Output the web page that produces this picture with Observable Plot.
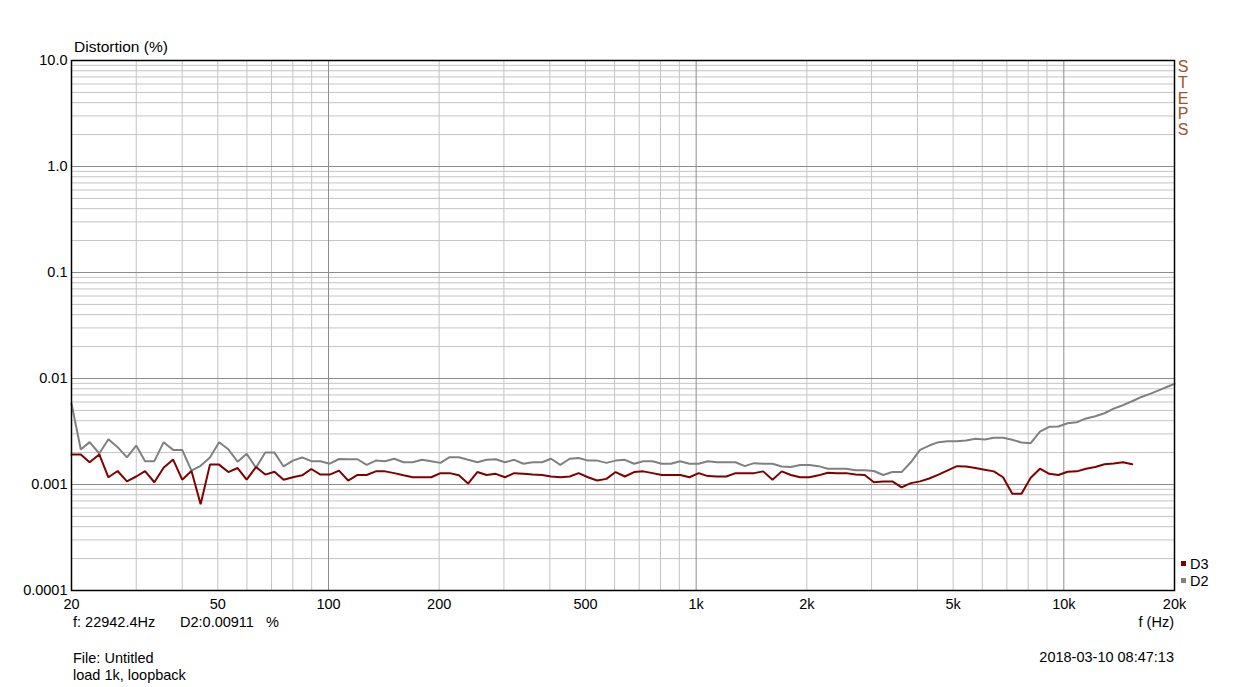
<!DOCTYPE html>
<html>
<head>
<meta charset="utf-8">
<script src="https://cdn.jsdelivr.net/npm/d3@7"></script>
<script src="https://cdn.jsdelivr.net/npm/@observablehq/plot@0.6"></script>
<style>
  html, body { margin: 0; padding: 0; background: #fff; }
  #wrap { position: relative; width: 1234px; height: 687px; font-family: "Liberation Sans", Arial, sans-serif; color: #000; }
  #wrap svg { position: absolute; left: 0; top: 0; }
  .t { position: absolute; font-size: 14.5px; line-height: 16px; white-space: pre; }
  .steps { position: absolute; left: 1176px; top: 59px; font-size: 16px; line-height: 15.8px; color: #a0522d; width: 14px; text-align: center; }
  .sw { position: absolute; width: 5px; height: 5px; }
</style>
</head>
<body>
<div id="wrap"></div>
<script>
// Frequencies of the sweep (Hz)
const freqs = [
  20, 21.2, 22.4, 23.8, 25.2, 26.7, 28.3, 30.0, 31.7, 33.6, 35.6, 37.8,
  40, 42.4, 44.9, 47.6, 50.4, 53.4, 56.6, 59.9, 63.5, 67.3, 71.3, 75.5,
  80, 84.8, 89.8, 95.1, 100.8, 106.8, 113.1, 119.9, 127.0, 134.5, 142.5, 151.0,
  160, 169.5, 179.6, 190.3, 201.6, 213.6, 226.3, 239.7, 254.0, 269.1, 285.1, 302.0,
  320, 339, 359, 381, 403, 427, 453, 479, 508, 538, 570, 604,
  640, 678, 718, 761, 806, 854, 905, 959, 1016, 1076, 1140, 1208,
  1280, 1356, 1437, 1522, 1613, 1709, 1810, 1918, 2032, 2153, 2281, 2416,
  2560, 2712, 2874, 3044, 3225, 3417, 3620, 3836, 4064, 4305, 4561, 4833,
  5120, 5424, 5747, 6089, 6451, 6834, 7241, 7671, 8127, 8611, 9123, 9665,
  10240, 10849, 11494, 12177, 12902, 13669, 14482, 15343, 16255, 17222, 18246, 19331,
  20000
];

// D2 distortion (%)
const d2 = [
  0.0058, 0.00214, 0.00251, 0.00196, 0.00267, 0.00225, 0.0018, 0.00233, 0.00166, 0.00166,
  0.0025, 0.00212, 0.00212, 0.00135, 0.0015, 0.0018, 0.0025, 0.00215, 0.00164, 0.00195,
  0.00144, 0.002, 0.002, 0.00148, 0.00168, 0.0018, 0.00166, 0.00166, 0.00157, 0.00174,
  0.00173, 0.00173, 0.00153, 0.00168, 0.00166, 0.00175, 0.00162, 0.00162, 0.00171, 0.00166,
  0.0016, 0.00181, 0.00181, 0.00171, 0.00162, 0.00171, 0.00173, 0.00162, 0.00171, 0.00157,
  0.00162, 0.00162, 0.00175, 0.00153, 0.00175, 0.00178, 0.00168, 0.00168, 0.0016, 0.00168,
  0.00171, 0.00157, 0.00166, 0.00166, 0.00157, 0.00157, 0.00166, 0.00157, 0.00157, 0.00166,
  0.00162, 0.00162, 0.00162, 0.00149, 0.00159, 0.00157, 0.00157, 0.00148, 0.00146, 0.00153,
  0.00153, 0.00149, 0.00141, 0.00141, 0.00141, 0.00136, 0.00136, 0.00134, 0.00123, 0.00131,
  0.00131, 0.00162, 0.00212, 0.00233, 0.00251, 0.00256, 0.00256, 0.0026, 0.0027, 0.00266,
  0.00276, 0.00276, 0.00264, 0.00249, 0.00245, 0.00315, 0.0035, 0.00352, 0.00378, 0.00387,
  0.0042, 0.0044, 0.0047, 0.0052, 0.0056, 0.0061, 0.0067, 0.0072, 0.0078, 0.0085,
  0.0089
];

// D3 distortion (%)
const d3 = [
  0.00192, 0.00192, 0.00162, 0.00192, 0.00117, 0.00134, 0.00107, 0.00119, 0.00134, 0.00105,
  0.00144, 0.00172, 0.00111, 0.00134, 0.00065, 0.00154, 0.00154, 0.00131, 0.00143, 0.00111,
  0.00146, 0.00124, 0.00132, 0.00111, 0.00117, 0.00122, 0.0014, 0.00124, 0.00124, 0.00135,
  0.00109, 0.00123, 0.00123, 0.00133, 0.00133, 0.00128, 0.00122, 0.00117, 0.00117, 0.00117,
  0.00128, 0.00128, 0.00122, 0.00102, 0.00131, 0.00123, 0.00126, 0.00117, 0.00128, 0.00126,
  0.00124, 0.00123, 0.00119, 0.00117, 0.00119, 0.00128, 0.00117, 0.00109, 0.00113, 0.00131,
  0.00119, 0.00131, 0.00133, 0.00128, 0.00123, 0.00123, 0.00123, 0.00117, 0.00128, 0.0012,
  0.00119, 0.00119, 0.00128, 0.00128, 0.00128, 0.00133, 0.00111, 0.00133, 0.00123, 0.00117,
  0.00117, 0.00122, 0.00129, 0.00128, 0.00128, 0.00124, 0.00123, 0.00105, 0.00107, 0.00107,
  0.00094, 0.00103, 0.00107, 0.00114, 0.00124, 0.00136, 0.00149, 0.00148, 0.00143, 0.00138,
  0.00133, 0.00117, 0.00082, 0.00082, 0.00116, 0.00141, 0.00126, 0.00123, 0.00132, 0.00133,
  0.00141, 0.00146, 0.00155, 0.00158, 0.00162, 0.00155
];

const xTicks = [20, 50, 100, 200, 500, 1000, 2000, 5000, 10000, 20000];
const xTickLabels = ["20", "50", "100", "200", "500", "1k", "2k", "5k", "10k", "20k"];
const yTicks = [0.0001, 0.001, 0.01, 0.1, 1, 10];
const yTickLabels = ["0.0001", "0.001", "0.01", "0.1", "1.0", "10.0"];

const xDecades = [10, 100, 1000, 10000];
const yDecades = [0.0001, 0.001, 0.01, 0.1, 1];
const multipliers = [2, 3, 4, 5, 6, 7, 8, 9];
const xMajor = [100, 1000, 10000];
const yMajor = [0.001, 0.01, 0.1, 1];

const xMinor = xDecades.flatMap(d => multipliers.map(m => d * m)).filter(v => v > 20 && v < 20000 && !xMajor.includes(v));
const yMinor = yDecades.flatMap(d => multipliers.map(m => +(d * m).toPrecision(3)));

const rows = [
  ...freqs.map((f, i) => ({f, v: d2[i], s: "D2"})),
  ...d3.map((v, i) => ({f: freqs[i], v, s: "D3"}))
];

const colors = {D3: "#800000", D2: "#808080"};
const xLabelRows = xTicks.map((t, i) => ({t, label: xTickLabels[i]}));

const chart = Plot.plot({
  width: 1234,
  height: 687,
  marginTop: 60,
  marginLeft: 71,
  marginRight: 60,
  marginBottom: 97,
  style: {fontFamily: "'Liberation Sans', Arial, sans-serif", fontSize: "14.5px", background: "transparent", color: "#000"},
  x: {type: "log", domain: [20, 20000], axis: null},
  y: {type: "log", domain: [0.0001, 10]},
  marks: [
    Plot.ruleX(xMinor, {stroke: "#c4c4c4", strokeWidth: 1}),
    Plot.ruleY(yMinor, {stroke: "#c4c4c4", strokeWidth: 1}),
    Plot.ruleX(xMajor, {stroke: "#8c8c8c", strokeWidth: 1}),
    Plot.ruleY(yMajor, {stroke: "#8c8c8c", strokeWidth: 1}),
    Plot.line(rows.filter(d => d.s === "D2"), {x: "f", y: "v", stroke: colors.D2, strokeWidth: 2, strokeLinejoin: "miter"}),
    Plot.line(rows.filter(d => d.s === "D3"), {x: "f", y: "v", stroke: colors.D3, strokeWidth: 2, strokeLinejoin: "miter"}),
    Plot.frame({stroke: "#000", strokeWidth: 1.5}),
    Plot.text(xLabelRows, {x: "t", text: "label", frameAnchor: "bottom", dy: 18, fontSize: 14.5, fill: "#000"}),
    Plot.axisY({ticks: yTicks, tickFormat: d => yTickLabels[yTicks.indexOf(d)], tickSize: 0, tickPadding: 4, label: null, fontSize: 14.5})
  ]
});

const wrap = document.getElementById("wrap");
wrap.appendChild(chart);

function addText(txt, left, top, extra) {
  const el = document.createElement("div");
  el.className = "t";
  el.textContent = txt;
  el.style.left = left + "px";
  el.style.top = top + "px";
  if (extra) Object.assign(el.style, extra);
  wrap.appendChild(el);
  return el;
}

addText("Distortion (%)", 74, 39, {fontSize: "15.5px"});
addText("f (Hz)", 0, 614, {left: "auto", right: (1234 - 1174) + "px"});
addText("f: 22942.4Hz", 73, 614);
addText("D2:0.00911   %", 180, 614);
addText("File: Untitled", 73, 650);
addText("load 1k, loopback", 73, 667);
addText("2018-03-10 08:47:13", 0, 649, {left: "auto", right: (1234 - 1174) + "px"});

// STEPS vertical label
const steps = document.createElement("div");
steps.className = "steps";
steps.innerHTML = "S<br>T<br>E<br>P<br>S";
wrap.appendChild(steps);

// Legend
const legendItems = ["D3", "D2"];
legendItems.forEach((k, i) => {
  const sw = document.createElement("div");
  sw.className = "sw";
  sw.style.background = colors[k];
  sw.style.left = "1181px";
  sw.style.top = (561 + i * 17) + "px";
  wrap.appendChild(sw);
  addText(k, 1190, 556 + i * 17);
});
</script>
</body>
</html>
